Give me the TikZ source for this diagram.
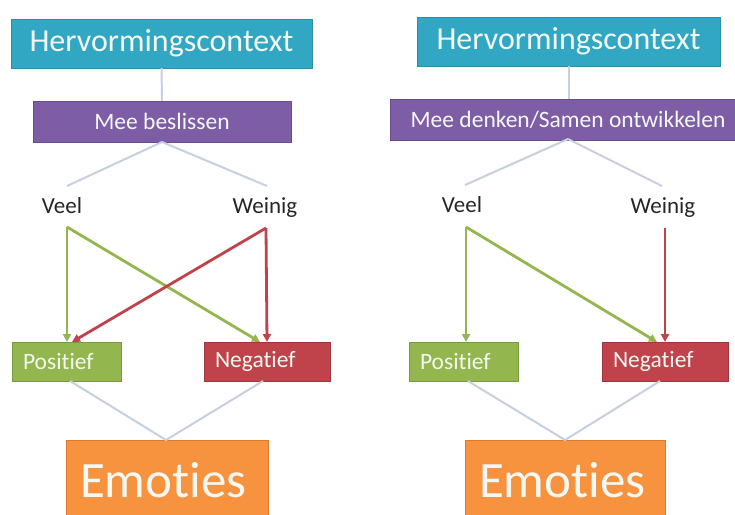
\documentclass[tikz,border=0pt]{standalone}
\usepackage{fontspec}
\setmainfont{Carlito}[Ligatures={NoCommon}]
\usetikzlibrary{arrows.meta}
\definecolor{ctx}{HTML}{31A7C3}
\definecolor{ctxd}{HTML}{2A8EA6}
\definecolor{purp}{HTML}{7E5DA7}
\definecolor{purpd}{HTML}{6A4C8E}
\definecolor{grn}{HTML}{93B64F}
\definecolor{grnd}{HTML}{7A9A3F}
\definecolor{rd}{HTML}{C0434B}
\definecolor{rdd}{HTML}{A0363D}
\definecolor{org}{HTML}{F7923F}
\definecolor{orgd}{HTML}{D97A2E}
\definecolor{conn}{HTML}{C6D0E1}
\definecolor{txtw}{HTML}{F4F8F2}
\begin{document}
\begin{tikzpicture}[x=1pt,y=-1pt,
  box/.style={anchor=north west, inner sep=0pt, outer sep=0pt, text=txtw, line width=0.8pt},
  ctxbox/.style={box, fill=ctx, draw=ctxd, font=\fontsize{32}{34}\selectfont, minimum height=49pt},
  midbox/.style={box, fill=purp, draw=purpd, font=\fontsize{23.5}{25}\selectfont, minimum height=41pt},
  leftbox/.style={box, font=\fontsize{23.5}{25}\selectfont, minimum height=39pt, align=left, inner xsep=11pt},
  posbox/.style={leftbox, fill=grn, draw=grnd, text width=87pt},
  negbox/.style={leftbox, fill=rd, draw=rdd, text width=104pt},
  emobox/.style={box, fill=org, draw=orgd, font=\fontsize{51}{53}\selectfont, minimum height=80pt, align=left, inner xsep=14pt},
  lbl/.style={font=\fontsize{23}{25}\selectfont, text=black!85, inner sep=0pt},
  conline/.style={draw=conn, line width=2pt},
  garr/.style={draw=grn, line width=2.8pt, -{Triangle[length=8pt,width=8pt]}},
  rarr/.style={draw=rd, line width=2.8pt, -{Triangle[length=8pt,width=8pt]}}
]
\useasboundingbox (0,0) rectangle (735,514);
\clip (0,0) rectangle (735,514);
\fill[white] (0,0) rectangle (735,514);

% ---------- Left panel ----------
\node[ctxbox, minimum width=301pt] (lctx) at (11,19) {Hervormingscontext};
\node[midbox, minimum width=258pt] (lmid) at (33,101) {Mee beslissen};
\node[lbl] (lveel) at (62,206) {Veel};
\node[lbl] (lwein) at (265,208) {Weinig};
\coordinate (lvtop) at (67,186);
\coordinate (lwtop) at (267,186);
\coordinate (lvs) at (67,227);
\coordinate (lws) at (266,228);
\node[posbox] (lpos) at (12,342) {Positief};
\node[negbox] (lneg) at (204,342) {Negatief};
\node[emobox, text width=174pt] (lemo) at (66,440) {Emoties};

\draw[conline] (lctx.south) -- (lmid.north);
\draw[conline] (lmid.south) -- (lvtop);
\draw[conline] (lmid.south) -- (lwtop);
\coordinate (lpt1) at (67,342);
\coordinate (lpt2) at (72,342);
\coordinate (lnt1) at (260,342);
\coordinate (lnt2) at (267,342);
\draw[garr] (lvs) -- (lpt1);
\draw[garr] (lvs) -- (lnt1);
\draw[rarr] (lws) -- (lpt2);
\draw[rarr] (lws) -- (lnt2);
\coordinate (lpb) at (70,381);
\coordinate (lnb) at (263,381);
\coordinate (let) at (166,440);
\draw[conline] (lpb) -- (let) -- (lnb);

% ---------- Right panel ----------
\node[ctxbox, minimum width=303pt] (rctx) at (417,17) {Hervormingscontext};
\node[midbox, minimum width=356pt] (rmid) at (390,99) {Mee denken/Samen ontwikkelen};
\node[lbl] (rveel) at (462,205) {Veel};
\node[lbl] (rwein) at (663,208) {Weinig};
\coordinate (rvtop) at (465,185);
\coordinate (rwtop) at (662,186);
\coordinate (rvs) at (466,227);
\coordinate (rws) at (665,228);
\node[posbox] (rpos) at (409,342) {Positief};
\node[negbox] (rneg) at (602,342) {Negatief};
\node[emobox, text width=172pt] (remo) at (465,440) {Emoties};
\coordinate (rmb) at (568,139);

\draw[conline] (rctx.south) -- (rctx.south |- rmid.north);
\draw[conline] (rmb) -- (rvtop);
\draw[conline] (rmb) -- (rwtop);
\coordinate (rpt1) at (466,342);
\coordinate (rnt1) at (657,342);
\coordinate (rnt2) at (665,342);
\draw[garr] (rvs) -- (rpt1);
\draw[garr] (rvs) -- (rnt1);
\draw[rarr] (rws) -- (rnt2);
\coordinate (rpb) at (468,381);
\coordinate (rnb) at (660,381);
\coordinate (ret) at (565,440);
\draw[conline] (rpb) -- (ret) -- (rnb);
\end{tikzpicture}
\end{document}
